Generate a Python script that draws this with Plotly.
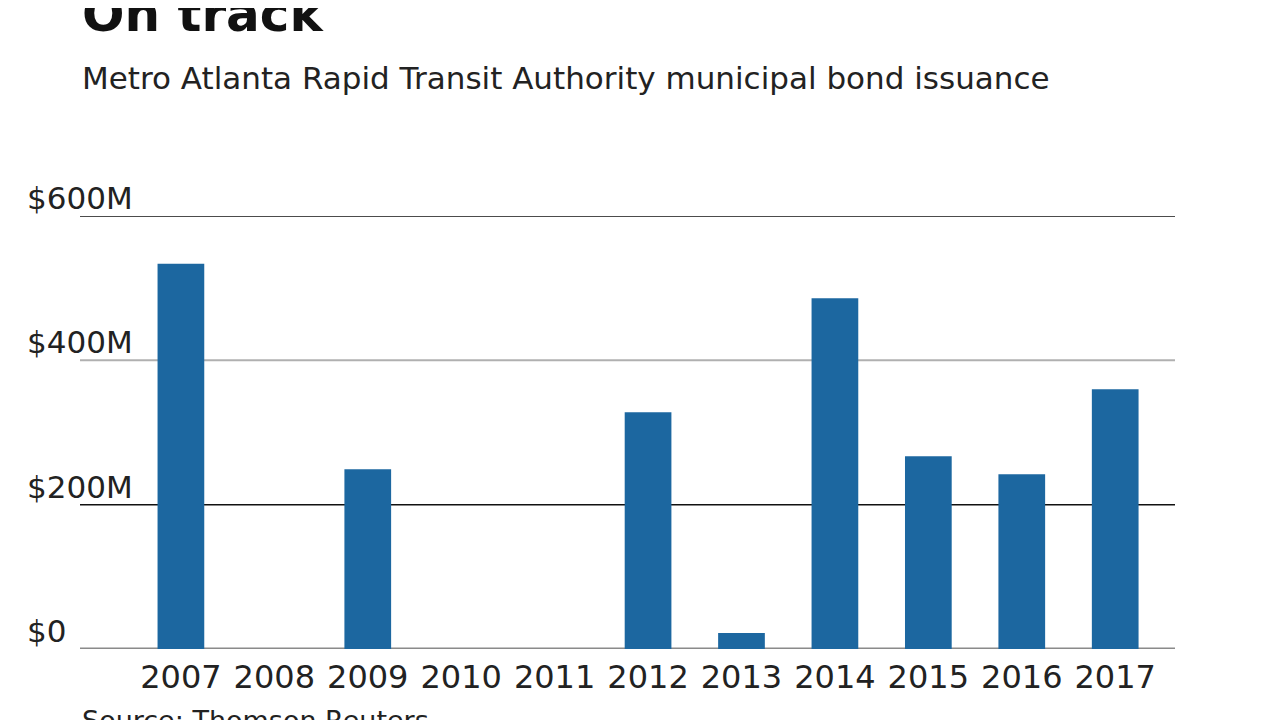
import plotly.graph_objects as go

years = ["2007", "2008", "2009", "2010", "2011", "2012", "2013", "2014", "2015", "2016", "2017"]
issuance = [534, 0, 249, 0, 0, 328, 22, 486, 267, 242, 360]
tick_values = [0, 200, 400, 600]
tick_labels = ["$0", "$200M", "$400M", "$600M"]
grid_colors = ["#8a8a8a", "#111111", "#b0b0b0", "#111111"]
grid_widths = [3, 1.5, 2, 1.5]

FONT = "DejaVu Sans"

fig = go.Figure()
fig.add_trace(go.Bar(x=years, y=issuance, marker=dict(color="#1c67a0", line=dict(width=0)),
                     width=0.5, hoverinfo="x+y"))

shapes = []
for v, c, w in zip(tick_values, grid_colors, grid_widths):
    shapes.append(dict(type="line", xref="paper", yref="y", x0=0, x1=1, y0=v, y1=v,
                       line=dict(color=c, width=w), layer="below"))

annotations = []
for v, t in zip(tick_values, tick_labels):
    annotations.append(dict(text=t, xref="paper", yref="y", x=-0.05, y=v, xanchor="left",
                            yanchor="bottom", yshift=-2, showarrow=False,
                            font=dict(family=FONT, size=31, color="#222")))

annotations.append(dict(text="On track", xref="paper", yref="paper", x=0.0, y=1.0,
                        xanchor="left", yanchor="bottom", yshift=171, showarrow=False,
                        font=dict(family=FONT, size=50, color="#111", weight=700)))
annotations.append(dict(text="Metro Atlanta Rapid Transit Authority municipal bond issuance",
                        xref="paper", yref="paper", x=0.0, y=1.0, xanchor="left",
                        yanchor="bottom", yshift=118, showarrow=False,
                        font=dict(family=FONT, size=31, color="#222")))
annotations.append(dict(text="Source: Thomson Reuters", xref="paper", yref="paper", x=0.0, y=0,
                        xanchor="left", yanchor="top", yshift=-54, showarrow=False,
                        font=dict(family=FONT, size=27, color="#222")))

fig.update_layout(
    width=1280, height=720,
    margin=dict(l=72, r=113, t=208, b=79, pad=0),
    paper_bgcolor="white", plot_bgcolor="white",
    showlegend=False,
    shapes=shapes, annotations=annotations,
    xaxis=dict(type="category", range=[-1.08, 10.64], showgrid=False, zeroline=False,
               showline=False, ticks="", tickfont=dict(family=FONT, size=32, color="#222"),
               ticklabelstandoff=6),
    yaxis=dict(range=[0, 600], showgrid=False, zeroline=False, showline=False,
               showticklabels=False, ticks=""),
)

fig.write_html("out.html")
